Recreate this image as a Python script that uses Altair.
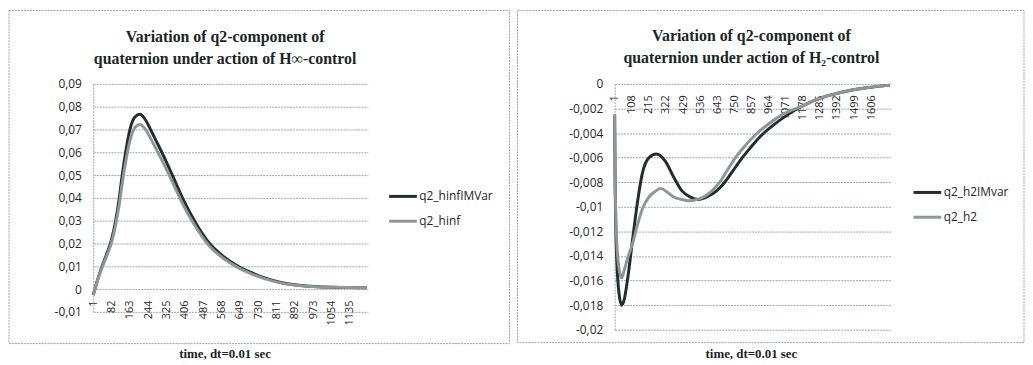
import altair as alt
import pandas as pd

# ---------------- data ----------------
left_names = ["q2_hinfIMVar", "q2_hinf"]
left_t = [1, 20, 40, 60, 80, 100, 116, 129, 144, 163, 185, 207, 230, 254, 280,
          309, 353, 396, 448, 513, 580, 645, 700, 761, 834, 907, 980, 1053, 1126, 1210]
left_dark = [-0.0026, 0.0040, 0.0100, 0.0152, 0.0210, 0.0300, 0.0400, 0.0500, 0.0600,
             0.0700, 0.0755, 0.0767, 0.0745, 0.0700, 0.0648, 0.0590, 0.0494, 0.0398,
             0.0300, 0.0202, 0.0140, 0.0098, 0.0072, 0.0048, 0.0028, 0.0017, 0.0011,
             0.0008, 0.0007, 0.0006]
left_gray = [-0.0026, 0.0038, 0.0095, 0.0144, 0.0198, 0.0282, 0.0372, 0.0462, 0.0556,
             0.0650, 0.0708, 0.0722, 0.0703, 0.0662, 0.0612, 0.0556, 0.0465, 0.0374,
             0.0282, 0.0190, 0.0132, 0.0092, 0.0067, 0.0045, 0.0026, 0.0016, 0.0010,
             0.0008, 0.0007, 0.0006]

right_names = ["q2_h2IMvar", "q2_h2"]
right_dark_t = [1, 4, 8, 15, 28, 45, 60, 82, 113, 143, 174, 216, 263, 319, 371, 422,
                474, 526, 577, 639, 690, 740, 794, 850, 918, 990, 1073, 1176, 1279,
                1383, 1486, 1589, 1723]
right_dark = [-0.0025, -0.0080, -0.0115, -0.0145, -0.0170, -0.0180, -0.0176, -0.0159,
              -0.0127, -0.0097, -0.0073, -0.0060, -0.0057, -0.0063, -0.0076, -0.0087,
              -0.0092, -0.0094, -0.0092, -0.0087, -0.0080, -0.0071, -0.0061, -0.0052,
              -0.0042, -0.0034, -0.0026, -0.0018, -0.0012, -0.0008, -0.0005, -0.0003,
              -0.0001]
right_gray_t = [1, 4, 8, 15, 28, 45, 60, 82, 113, 143, 174, 216, 260, 288, 330, 371,
                420, 470, 520, 557, 610, 658, 707, 757, 820, 885, 960, 1050, 1176, 1279,
                1383, 1486, 1589, 1723]
right_gray = [-0.0025, -0.0075, -0.0105, -0.0130, -0.0150, -0.0158, -0.0152, -0.0142,
              -0.0130, -0.0115, -0.0102, -0.0092, -0.0087, -0.0085, -0.0088, -0.0092,
              -0.0094, -0.0095, -0.0094, -0.0092, -0.0087, -0.0080, -0.0070, -0.0060,
              -0.0050, -0.0041, -0.0033, -0.0025, -0.0018, -0.0012, -0.0008, -0.0005,
              -0.0003, -0.0001]

left_xticks = [1, 82, 163, 244, 325, 406, 487, 568, 649, 730, 811, 892, 973, 1054, 1135]
right_xticks = [1, 108, 215, 322, 429, 536, 643, 750, 857, 964, 1071, 1178, 1285,
                1392, 1499, 1606]
left_yticks = [-0.01, 0, 0.01, 0.02, 0.03, 0.04, 0.05, 0.06, 0.07, 0.08, 0.09]
right_yticks = [0, -0.002, -0.004, -0.006, -0.008, -0.01, -0.012, -0.014, -0.016,
                -0.018, -0.02]

left_title = "Variation of q2-component of\nquaternion under action of H\u221e-control"
right_title = "Variation of q2-component of\nquaternion under action of H\u2082-control"
x_title = "time, dt=0.01 sec"

# ---------------- styling ----------------
DARK = "#1f2e2e"
GRAY = "#8d9797"
GRID = "#9aa6a6"
TXT = "#262626"
SANS = "Open Sans"
SERIF = "Liberation Serif"

YLABEL = "replace(replace(format(datum.value, '.3~f'), '.', ','), '\u2212', '-')"


def panel(names, dark_t, dark_v, gray_t, gray_v, xdom, xticks, ydom, yticks,
          xorient, xlabelpad, w, h, frame, title, title_x, title_y, legend_x, legend_y):
    df = pd.DataFrame({
        "t": list(dark_t) + list(gray_t),
        "v": list(dark_v) + list(gray_v),
        "s": [names[0]] * len(dark_t) + [names[1]] * len(gray_t),
    })
    lines = alt.Chart(df).mark_line(strokeWidth=3, interpolate="monotone").encode(
        x=alt.X("t:Q", scale=alt.Scale(domain=xdom, nice=False, zero=False),
                axis=alt.Axis(values=xticks, format="d", orient=xorient, labelAngle=-90,
                              labelAlign="right", labelBaseline="middle",
                              labelPadding=xlabelpad, ticks=False, domain=False,
                              grid=False, title=None, labelFont=SANS,
                              labelFontSize=11, labelColor=TXT,
                              labelOverlap=False, labelFlush=False)),
        y=alt.Y("v:Q", scale=alt.Scale(domain=ydom, nice=False, zero=False),
                axis=alt.Axis(values=yticks, labelExpr=YLABEL, grid=True,
                              gridColor=GRID, gridDash=[2, 1], ticks=False,
                              domain=True, domainColor=GRID, domainDash=[2, 1],
                              labelPadding=12, title=None, labelFont=SANS,
                              labelFontSize=12, labelColor=TXT)),
        color=alt.Color("s:N", sort=names,
                        scale=alt.Scale(domain=names, range=[DARK, GRAY]),
                        legend=alt.Legend(orient="none", legendX=legend_x,
                                          legendY=legend_y, title=None,
                                          symbolType="stroke", symbolSize=784,
                                          symbolStrokeWidth=3, labelFont=SANS,
                                          labelFontSize=12, labelColor=TXT,
                                          labelOffset=1, rowPadding=3)),
    )
    box = alt.Chart(pd.DataFrame({"a": [0]})).mark_rect(
        fillOpacity=0, stroke="#9aa3a3", strokeWidth=1, strokeDash=[2, 1]
    ).encode(x=alt.value(frame[0]), x2=alt.value(frame[1]),
             y=alt.value(frame[2]), y2=alt.value(frame[3]))
    ttl = alt.Chart(pd.DataFrame({"t": [title]})).mark_text(
        font=SERIF, fontWeight="bold", fontSize=16, lineBreak="\n", lineHeight=22,
        align="center", baseline="middle", color="#1a2626"
    ).encode(text="t:N", x=alt.value(title_x), y=alt.value(title_y))
    xt = alt.Chart(pd.DataFrame({"t": [x_title]})).mark_text(
        font=SERIF, fontWeight="bold", fontSize=13, align="center",
        baseline="middle", color="#1a2626"
    ).encode(text="t:N", x=alt.value(title_x), y=alt.value(273))
    return alt.layer(box, lines, ttl, xt).properties(width=w, height=h)


left = panel(left_names, left_t, left_dark, left_t, left_gray, [1, 1214],
             left_xticks, [-0.01, 0.09], left_yticks, "bottom", -12, 277, 230,
             (-85, 420, -74, 262), left_title, 133, -47, 297, 98)
right = panel(right_names, right_dark_t, right_dark, right_gray_t, right_gray,
              [1, 1725], right_xticks, [-0.02, 0], right_yticks, "top", -11,
              278, 248, (-98, 413, -74, 261), right_title, 138, -48, 300, 94)

chart = alt.hconcat(left, right, spacing=6).resolve_scale(
    x="independent", y="independent", color="independent"
).resolve_legend(color="independent").configure_view(stroke=None).properties(
    padding=0, background="white"
)

chart.save("out.html", embed_options={"renderer": "svg", "actions": False})
